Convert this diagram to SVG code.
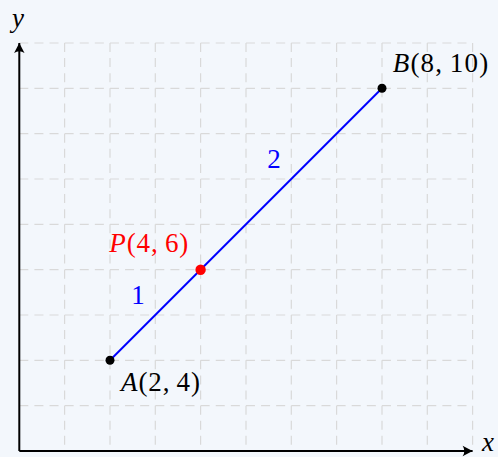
<svg xmlns="http://www.w3.org/2000/svg" width="498" height="457" viewBox="0 0 498 457">
<defs>
<style>
.grid line{stroke:#d9d9d9;stroke-width:1.2;stroke-dasharray:9 6.11;fill:none}
.axis{stroke:#000;stroke-width:2;fill:none}
text{font-family:'Liberation Serif','Times New Roman',Times,serif;font-size:27px}
.it{font-style:italic}
</style>
<marker id="arr" markerWidth="14" markerHeight="12" viewBox="-11 -6 12 12" refX="0" refY="0" orient="auto" markerUnits="userSpaceOnUse">
<path d="M0,0 L-10,-5.2 Q-6.5,0 -10,5.2 Z" fill="#000"/>
</marker>
</defs>
<rect width="498" height="457" fill="#f3f7fc"/>
<g class="grid" id="grid">
<line x1="64.6" y1="43" x2="64.6" y2="451"/>
<line x1="110" y1="43" x2="110" y2="451"/>
<line x1="155.3" y1="43" x2="155.3" y2="451"/>
<line x1="200.6" y1="43" x2="200.6" y2="451"/>
<line x1="246" y1="43" x2="246" y2="451"/>
<line x1="291.3" y1="43" x2="291.3" y2="451"/>
<line x1="336.6" y1="43" x2="336.6" y2="451"/>
<line x1="382" y1="43" x2="382" y2="451"/>
<line x1="427.3" y1="43" x2="427.3" y2="451"/>
<line x1="472.6" y1="43" x2="472.6" y2="451"/>
<line x1="19.3" y1="405.7" x2="472.6" y2="405.7"/>
<line x1="19.3" y1="360.3" x2="472.6" y2="360.3"/>
<line x1="19.3" y1="315" x2="472.6" y2="315"/>
<line x1="19.3" y1="269.7" x2="472.6" y2="269.7"/>
<line x1="19.3" y1="224.3" x2="472.6" y2="224.3"/>
<line x1="19.3" y1="179" x2="472.6" y2="179"/>
<line x1="19.3" y1="133.7" x2="472.6" y2="133.7"/>
<line x1="19.3" y1="88.3" x2="472.6" y2="88.3"/>
<line x1="19.3" y1="43" x2="472.6" y2="43"/>
</g>
<g id="axes">
<line class="axis" x1="19.3" y1="451" x2="472.6" y2="451" marker-end="url(#arr)"/>
<line class="axis" x1="19.3" y1="451" x2="19.3" y2="43" marker-end="url(#arr)"/>
<text class="it" x="482" y="451">x</text>
<text class="it" x="12" y="26.5">y</text>
</g>
<g id="connectors">
<line x1="110" y1="360.3" x2="382" y2="88.3" stroke="#0000ff" stroke-width="2"/>
<text x="138" y="304.3" fill="#0000ff" text-anchor="middle">1</text>
<text x="274" y="168.3" fill="#0000ff" text-anchor="middle">2</text>
</g>
<g id="A">
<circle cx="110" cy="360.3" r="4.5" fill="#000"/>
<text x="121" y="390.7" textLength="79" lengthAdjust="spacing"><tspan class="it">A</tspan>(2,&#x2009;4)</text>
</g>
<g id="P">
<circle cx="200.6" cy="269.7" r="5.2" fill="#ff0000"/>
<text x="109.3" y="251.7" fill="#ff0000" textLength="79" lengthAdjust="spacing"><tspan class="it">P</tspan>(4,&#x2009;6)</text>
</g>
<g id="B">
<circle cx="382" cy="88.3" r="4.5" fill="#000"/>
<text x="392.7" y="71.7" textLength="95.5" lengthAdjust="spacing"><tspan class="it">B</tspan>(8,&#x2009;10)</text>
</g>
</svg>
